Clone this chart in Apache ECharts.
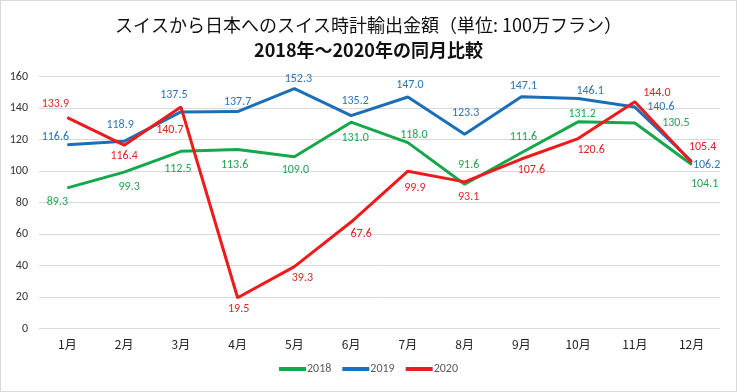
<!DOCTYPE html>
<html>
<head>
<meta charset="utf-8">
<script src="https://cdn.jsdelivr.net/npm/echarts@6/dist/echarts.min.js"></script>
<style>
html,body{margin:0;padding:0;background:#fff;}
#chart{width:737px;height:392px;box-sizing:border-box;border:1px solid #d9d9d9;}
</style>
</head>
<body>
<div id="chart"></div>
<script>
// ---- data ----
const months = ['1月','2月','3月','4月','5月','6月','7月','8月','9月','10月','11月','12月'];
const seriesNames = ['2018','2019','2020'];
const values2018 = [89.3, 99.3, 112.5, 113.6, 109.0, 131.0, 118.0, 91.6, 111.6, 131.2, 130.5, 104.1];
const values2019 = [116.6, 118.9, 137.5, 137.7, 152.3, 135.2, 147.0, 123.3, 147.1, 146.1, 140.6, 106.2];
const values2020 = [133.9, 116.4, 140.7, 19.5, 39.3, 67.6, 99.9, 93.1, 107.6, 120.6, 144.0, 105.4];
const yTicks = [0, 20, 40, 60, 80, 100, 120, 140, 160];

// ---- label placement (style only) ----
const off2018 = [[-10,14],[5,15],[-3,18],[-3,15],[1,13],[4,16],[6,-8],[4,-19],[2,-16],[4,-8],[41,0],[13,19]];
const off2019 = [[-12,-8],[-4,-16],[-7,-17],[0,-10],[4,-10],[4,-15],[2,-12],[1,-21],[2,-11],[12,-7],[26,0],[15,4]];
const off2020 = [[-12,-14],[0,11],[-11,23],[1,11],[8,11],[10,12],[7,17],[4,15],[10,11],[13,11],[22,-9],[11,-15]];

const lineColors = ['#14A84B', '#1A6FB8', '#EE1B1B'];
const labelColors = ['#22A452', '#2E75B6', '#E02424'];
const numFont = 'Carlito, "Liberation Sans", Arial, sans-serif';

function build(vals, offs) {
  return vals.map((v, i) => ({ value: v, label: { offset: offs[i] } }));
}
function mk(name, vals, offs, idx) {
  return {
    name: name,
    type: 'line',
    data: build(vals, offs),
    symbol: 'circle',
    symbolSize: 1,
    showSymbol: true,
    z: 2 + idx,
    itemStyle: { color: lineColors[idx] },
    lineStyle: { color: lineColors[idx], width: 3 },
    label: {
      show: true,
      position: 'inside',
      align: 'center',
      verticalAlign: 'middle',
      color: labelColors[idx],
      fontSize: 12,
      fontFamily: numFont,
      formatter: p => p.value.toFixed(1)
    },
    emphasis: { disabled: true },
    animation: false
  };
}

const chart = echarts.init(document.getElementById('chart'), null, { renderer: 'canvas' });
chart.setOption({
  animation: false,
  title: {
    text: '{a|スイスから日本へのスイス時計輸出金額（単位: 100万フラン）}\n{b|2018年～2020年の同月比較}',
    left: 'center',
    top: 7,
    textStyle: {
      fontWeight: 'normal',
      rich: {
        a: { fontSize: 18, fontWeight: 'normal', fontFamily: '"Noto Sans CJK JP", sans-serif', color: '#111', lineHeight: 25 },
        b: { fontSize: 18, fontWeight: 'bold', fontFamily: '"Noto Sans CJK JP", sans-serif', color: '#111', lineHeight: 25 }
      }
    }
  },
  legend: {
    bottom: 11,
    left: 'center',
    icon: 'rect',
    itemWidth: 27,
    itemHeight: 4,
    itemGap: 11,
    data: seriesNames,
    textStyle: { color: '#595959', fontSize: 12, fontFamily: numFont, padding: [0,0,0,-4] }
  },
  grid: { left: 38, right: 16, top: 75.5, bottom: 62.5, containLabel: false },
  xAxis: {
    type: 'category',
    data: months,
    boundaryGap: true,
    axisLine: { show: true, lineStyle: { color: '#d9d9d9', width: 1 } },
    axisTick: { show: false },
    axisLabel: { color: '#222', fontSize: 12, margin: 10, fontFamily: '"Noto Sans CJK JP", sans-serif' }
  },
  yAxis: {
    type: 'value',
    min: yTicks[0],
    max: yTicks[yTicks.length - 1],
    interval: 20,
    axisLine: { show: false },
    axisTick: { show: false },
    splitLine: { lineStyle: { color: '#d9d9d9', width: 1 } },
    axisLabel: { color: '#333', fontSize: 12, margin: 11, fontFamily: numFont }
  },
  series: [
    mk(seriesNames[0], values2018, off2018, 0),
    mk(seriesNames[1], values2019, off2019, 1),
    mk(seriesNames[2], values2020, off2020, 2)
  ]
});
</script>
</body>
</html>
